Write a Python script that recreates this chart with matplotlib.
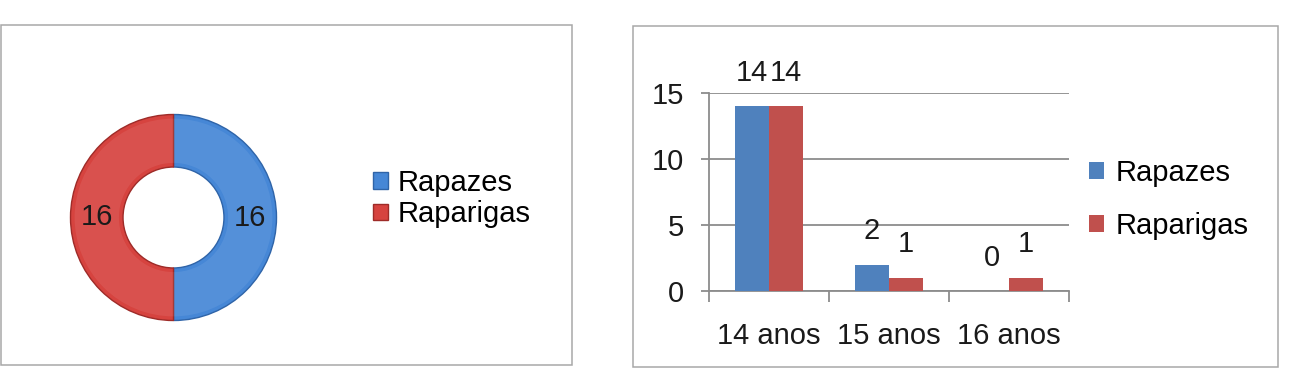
import matplotlib
matplotlib.use('Agg')
import matplotlib.pyplot as plt
import numpy as np
from matplotlib.patches import Rectangle, Wedge

# ─── Data ─────────────────────────────────────────────────────────────────────
genders = ['Rapazes', 'Raparigas']
gender_totals = [16, 16]

ages = ['14 anos', '15 anos', '16 anos']
rapazes = [14, 2, 0]
raparigas = [14, 1, 1]

# ─── Style ────────────────────────────────────────────────────────────────────
plt.rcParams['font.family'] = ['Liberation Sans', 'DejaVu Sans']
W, H = 1291, 381
FS = 21
TXT = '#1a1a1a'
DONUT_CLR = ['#4687d6', '#d6433f']
DONUT_EDGE = ['#2f64a8', '#9e2b28']
BAR_CLR = ['#4f81bd', '#c0504d']
GRID = '#8c8c8c'


def fx(px):
    return px / W


def fy(py):
    return 1 - py / H


fig = plt.figure(figsize=(W / 100, H / 100), dpi=100, facecolor='white')

# panel frames
for x0, y0, x1, y1 in [(1, 25, 572, 365), (633, 26, 1278, 367)]:
    fig.patches.append(Rectangle((fx(x0), fy(y1)), fx(x1 - x0), fy(y0) - fy(y1),
                                 transform=fig.transFigure, fill=False,
                                 edgecolor='#a8a8a8', linewidth=1.1, zorder=1))

# ── Donut ────────────────────────────────────────────────────────────
cx, cy, r = 173.5, 217.5, 103
axd = fig.add_axes([fx(cx - r), fy(cy + r), fx(2 * r), fy(cy - r) - fy(cy + r)])
wedges, _ = axd.pie(gender_totals, colors=DONUT_CLR, startangle=90,
                    counterclock=False, radius=1,
                    wedgeprops=dict(width=0.51, linewidth=1.0))
for w, ec in zip(wedges, DONUT_EDGE):
    w.set_edgecolor(ec)
# soft bevel shading
for w in wedges:
    axd.add_patch(Wedge((0, 0), 0.96, w.theta1, w.theta2, width=0.43,
                        facecolor='white', alpha=0.08, edgecolor='none'))
mid_r = 1 - 0.51 / 2
for w, v in zip(wedges, gender_totals):
    ang = np.deg2rad((w.theta1 + w.theta2) / 2)
    axd.text(mid_r * np.cos(ang), mid_r * np.sin(ang), str(v),
             ha='center', va='center', fontsize=FS, color=TXT)
axd.set_xlim(-1, 1)
axd.set_ylim(-1, 1)
axd.set_aspect('equal')
axd.axis('off')

fig.legend(wedges, genders, loc='center left',
           bbox_to_anchor=(fx(373), fy(198.5)), frameon=False,
           fontsize=FS, handlelength=0.5, handleheight=0.5,
           handletextpad=0.35, labelspacing=0.12, borderpad=0,
           borderaxespad=0)

# ── Bars ─────────────────────────────────────────────────────────────
axb = fig.add_axes([fx(709), fy(291), fx(1069 - 709), fy(93) - fy(291)])
x = np.arange(len(ages))
bw = 0.283
b1 = axb.bar(x - bw / 2, rapazes, bw, color=BAR_CLR[0], label=genders[0], zorder=3)
b2 = axb.bar(x + bw / 2, raparigas, bw, color=BAR_CLR[1], label=genders[1], zorder=3)
for bars, vals in [(b1, rapazes), (b2, raparigas)]:
    for b, v in zip(bars, vals):
        axb.annotate(str(v), (b.get_x() + b.get_width() / 2, v),
                     xytext=(0, 24), textcoords='offset points',
                     ha='center', va='center', fontsize=FS, color=TXT)

axb.set_xlim(-0.5, 2.5)
axb.set_ylim(0, 15)
axb.set_yticks([0, 5, 10, 15])
axb.yaxis.grid(True, color=GRID, linewidth=1.3, zorder=0)
axb.set_axisbelow(True)
axb.set_xticks(x)
axb.set_xticklabels(ages)
axb.set_xticks([-0.5, 0.5, 1.5, 2.5], minor=True)
axb.tick_params(axis='x', which='major', length=0, pad=22, labelsize=FS,
                labelcolor=TXT)
axb.tick_params(axis='x', which='minor', length=8, width=1.3, color=GRID,
                direction='out')
axb.tick_params(axis='y', length=6, width=1.3, color=GRID, pad=12,
                labelsize=FS, labelcolor=TXT)
for side in ['top', 'right']:
    axb.spines[side].set_visible(False)
for side in ['left', 'bottom']:
    axb.spines[side].set_color(GRID)
    axb.spines[side].set_linewidth(1.3)

axb.legend(loc='center left', bbox_to_anchor=(fx(1089), fy(199.5)),
           bbox_transform=fig.transFigure, frameon=False, fontsize=FS,
           handlelength=0.5, handleheight=0.5, handletextpad=0.4,
           labelspacing=0.85, borderpad=0, borderaxespad=0)

fig.savefig('out.png', dpi=100, facecolor='white')
